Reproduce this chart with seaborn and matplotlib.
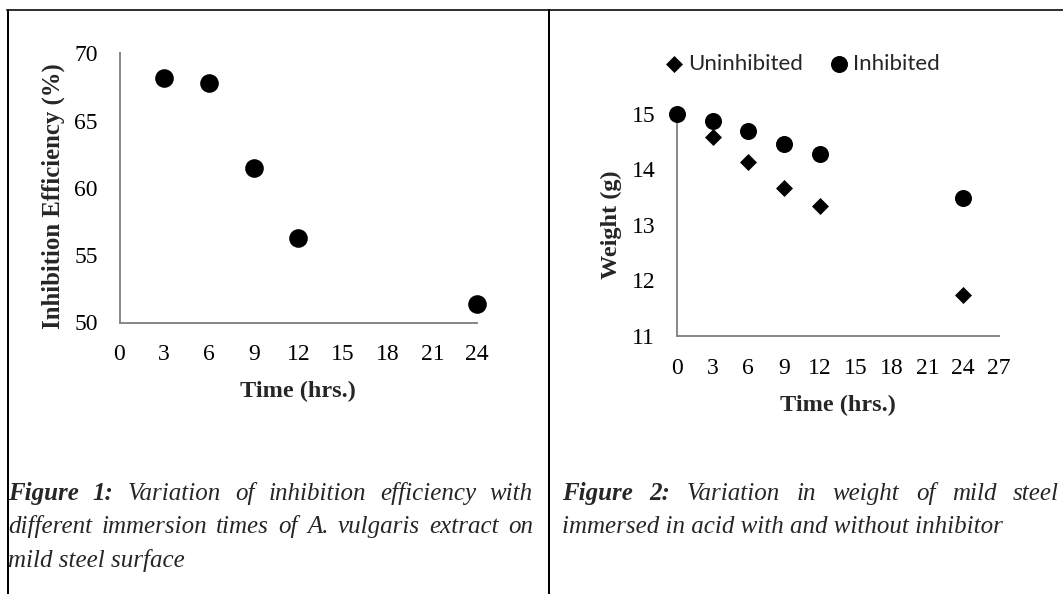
import matplotlib
matplotlib.use("Agg")
import matplotlib.pyplot as plt
from matplotlib.transforms import IdentityTransform
from matplotlib.lines import Line2D
import seaborn as sns
import pandas as pd

# ---------------- data ----------------
times_fig1 = [3, 6, 9, 12, 24]
efficiency = [68.2, 67.8, 61.5, 56.3, 51.4]

times_fig2 = [0, 3, 6, 9, 12, 24]
uninhibited = [15.0, 14.58, 14.13, 13.67, 13.35, 11.74]
inhibited = [15.0, 14.87, 14.69, 14.46, 14.28, 13.49]

x_ticks_fig1 = [0, 3, 6, 9, 12, 15, 18, 21, 24]
y_ticks_fig1 = [50, 55, 60, 65, 70]
x_ticks_fig2 = [0, 3, 6, 9, 12, 15, 18, 21, 24, 27]
y_ticks_fig2 = [11, 12, 13, 14, 15]

caption1 = [
    [("Figure", "bold"), ("1:", "bold"), ("Variation", "normal"), ("of", "normal"),
     ("inhibition", "normal"), ("efficiency", "normal"), ("with", "normal")],
    [("different", "normal"), ("immersion", "normal"), ("times", "normal"), ("of", "normal"),
     ("A.", "normal"), ("vulgaris", "normal"), ("extract", "normal"), ("on", "normal")],
    "mild steel surface",
]
caption2 = [
    [("Figure", "bold"), ("2:", "bold"), ("Variation", "normal"), ("in", "normal"),
     ("weight", "normal"), ("of", "normal"), ("mild", "normal"), ("steel", "normal")],
    "immersed in acid with and without inhibitor",
]

df1 = pd.DataFrame({"time": times_fig1, "eff": efficiency})
df2 = pd.DataFrame({"time": times_fig2, "un": uninhibited, "inh": inhibited})

# ---------------- style ----------------
sns.set_style("white")
SERIF = ["Liberation Serif", "DejaVu Serif"]
plt.rcParams["font.family"] = SERIF

W, H = 1063, 594
fig = plt.figure(figsize=(W / 100, H / 100), dpi=100)
fig.patch.set_facecolor("white")

AX_GRAY = "#868686"
TICK_FS = 17
LABEL_FS = 17.5
CAP_FS = 18


def px_axes(left, top, right, bottom):
    return fig.add_axes([left / W, 1 - bottom / H, (right - left) / W, (bottom - top) / H])


def style_axes(ax):
    for side in ("top", "right"):
        ax.spines[side].set_visible(False)
    for side in ("left", "bottom"):
        ax.spines[side].set_color(AX_GRAY)
        ax.spines[side].set_linewidth(1.4)
    ax.tick_params(axis="both", direction="out", length=4.5, width=1.4, color=AX_GRAY,
                   labelsize=TICK_FS, labelcolor="black", pad=11)
    ax.set_facecolor("white")
    ax.grid(False)


# ---------------- Figure 1 ----------------
ax1 = px_axes(119.5, 53.3, 477.3, 322.5)
sns.scatterplot(data=df1, x="time", y="eff", ax=ax1, color="black", marker="o",
                s=180, linewidth=0, clip_on=False, legend=False, zorder=3)
ax1.set_xlim(0, 24)
ax1.set_ylim(50, 70)
ax1.set_xticks(x_ticks_fig1)
ax1.set_yticks(y_ticks_fig1)
style_axes(ax1)
ax1.set_xlabel("Time (hrs.)", fontsize=LABEL_FS, fontweight="bold", va="baseline")
ax1.xaxis.set_label_coords(0.5, -(397 - 322.5) / (322.5 - 53.3))
ax1.set_ylabel("Inhibition Efficiency (%)", fontsize=17.8, fontweight="bold", va="center")
ax1.yaxis.set_label_coords((53 - 119.5) / (477.3 - 119.5), (322.5 - 196) / (322.5 - 53.3))

# ---------------- Figure 2 ----------------
ax2 = px_axes(676.7, 114, 999, 336)
sns.scatterplot(data=df2, x="time", y="un", ax=ax2, color="black", marker="D",
                s=75, linewidth=0, clip_on=False, label="Uninhibited", zorder=3)
sns.scatterplot(data=df2, x="time", y="inh", ax=ax2, color="black", marker="o",
                s=150, linewidth=0, clip_on=False, label="Inhibited", zorder=4)
ax2.set_xlim(0, 27)
ax2.set_ylim(11, 15)
ax2.set_xticks(x_ticks_fig2)
ax2.set_yticks(y_ticks_fig2)
style_axes(ax2)
ax2.set_xlabel("Time (hrs.)", fontsize=LABEL_FS, fontweight="bold", va="baseline")
ax2.xaxis.set_label_coords(0.5, -(410.7 - 336) / (336 - 114))
ax2.set_ylabel("Weight (g)", fontsize=LABEL_FS, fontweight="bold", va="center")
ax2.yaxis.set_label_coords((611.7 - 676.7) / (999 - 676.7), 0.5)

handles, labels = ax2.get_legend_handles_labels()
LEG_FS = 16
leg = ax2.legend(handles, labels, ncol=2, loc="center left",
                 bbox_to_anchor=(665 / W, 1 - 64 / H), bbox_transform=fig.transFigure,
                 frameon=False, borderpad=0, borderaxespad=0,
                 handlelength=0.8, handletextpad=0.25, columnspacing=1.2,
                 prop={"family": ["Lato", "DejaVu Sans"], "size": LEG_FS})

# ---------------- borders ----------------
BORDER_LW = 1.45
fig.add_artist(Line2D([7, W], [H - 10, H - 10], transform=IdentityTransform(),
                      color="#333333", linewidth=BORDER_LW))
fig.add_artist(Line2D([7.5, 7.5], [0, H - 10], transform=IdentityTransform(),
                      color="black", linewidth=BORDER_LW))
fig.add_artist(Line2D([548.5, 548.5], [0, H - 10], transform=IdentityTransform(),
                      color="black", linewidth=BORDER_LW))

# ---------------- captions ----------------
renderer = fig.canvas.get_renderer()


def caption(lines, x0, width, baselines):
    for line, yb in zip(lines, baselines):
        y = H - yb
        if isinstance(line, str):
            fig.text(x0, y, line, transform=IdentityTransform(), fontsize=CAP_FS,
                     style="italic", ha="left", va="baseline", family=SERIF)
            continue
        texts, widths = [], []
        for word, weight in line:
            t = fig.text(0, y, word, transform=IdentityTransform(), fontsize=CAP_FS,
                         style="italic", fontweight=weight, ha="left", va="baseline",
                         family=SERIF)
            widths.append(t.get_window_extent(renderer).width)
            texts.append(t)
        gap = (width - sum(widths)) / (len(texts) - 1)
        x = x0
        for t, wd in zip(texts, widths):
            t.set_position((x, y))
            x += wd + gap


caption(caption1, 8, 525, [500, 533, 567])
caption(caption2, 562, 497, [500, 533])

fig.savefig("out.png", dpi=100, facecolor="white")
